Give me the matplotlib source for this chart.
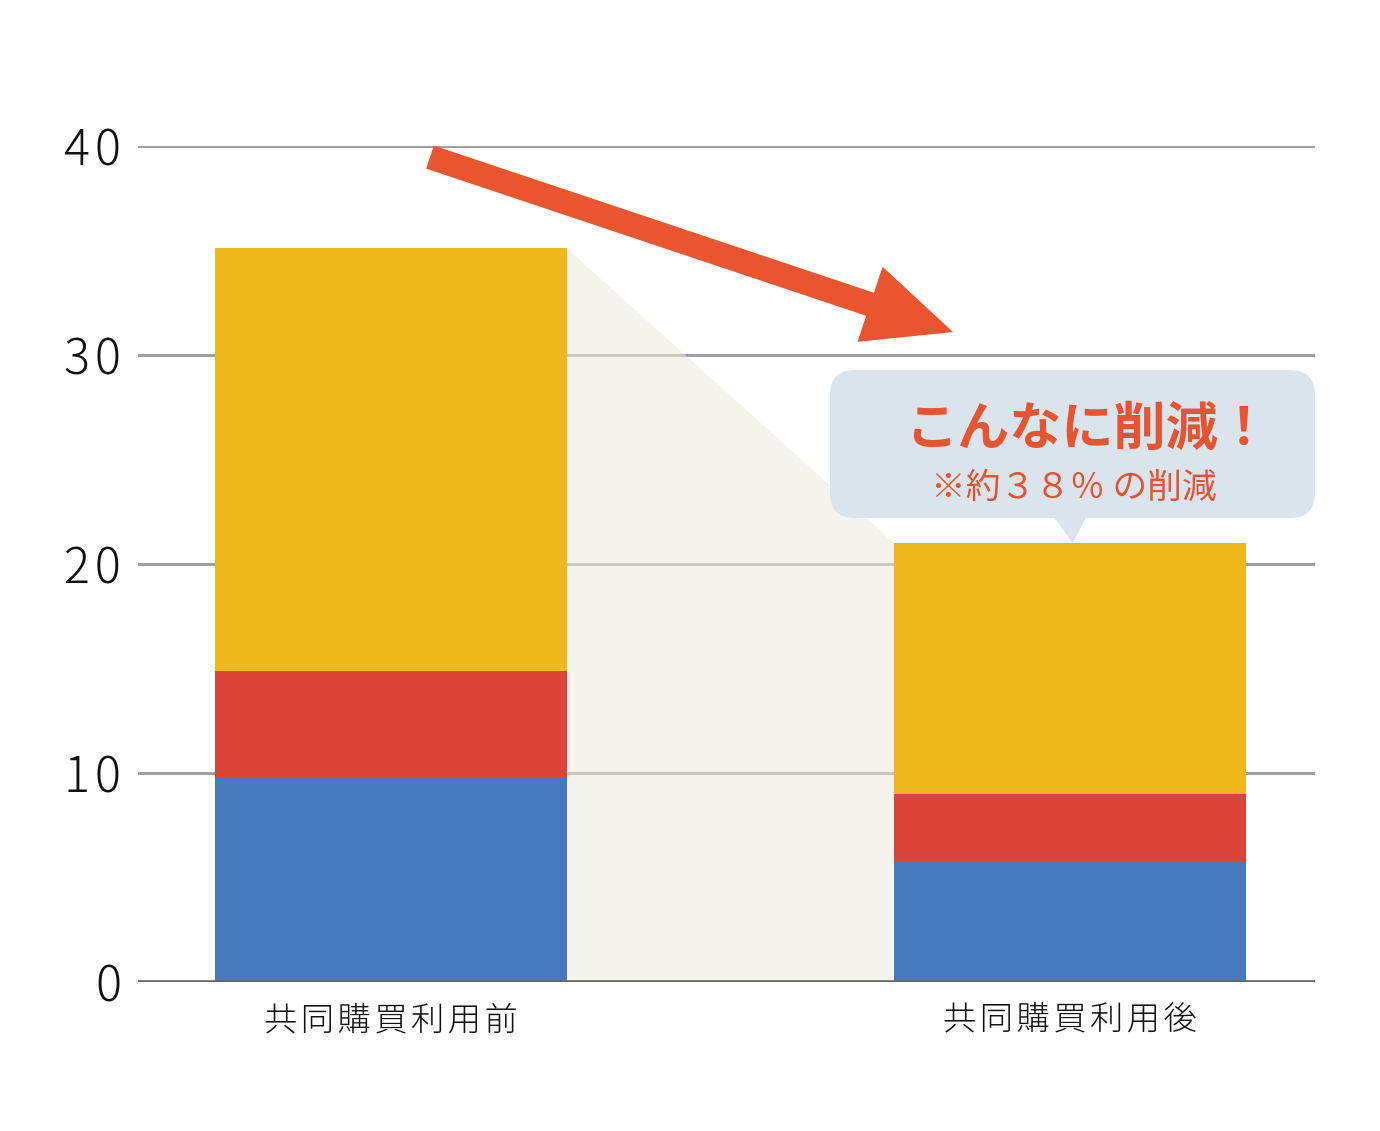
import matplotlib.pyplot as plt
from matplotlib.patches import Polygon, FancyBboxPatch

plt.rcParams['font.family'] = ['Noto Sans CJK JP', 'DejaVu Sans']

# データ
labels = ['共同購買利用前', '共同購買利用後']
blue_vals = [9.8, 5.8]
red_vals = [5.1, 3.2]
yellow_vals = [20.2, 12.0]
yticks = [0, 10, 20, 30, 40]
title_text = 'こんなに削減！'
sub_text = '※約３８％ の削減'

totals = [b + r + y for b, r, y in zip(blue_vals, red_vals, yellow_vals)]
x = [0, 1]
w = 0.518

fig = plt.figure(figsize=(13.8, 11.31), dpi=100)
ax = fig.add_axes([0.1, 0.1317, 0.8529, 0.7392])
ax.set_xlim(-0.3726, 1.3608)
ax.set_ylim(0, 40)

# グリッド
for t in yticks[1:]:
    ax.axhline(t, color='#a0a0a0', lw=2.2, zorder=1)
ax.axhline(0, color='#666666', lw=2.6, zorder=6)

# 棒の間の影
shade = Polygon([(x[0] + w / 2, totals[0]), (x[1] - w / 2, totals[1]),
                 (x[1] - w / 2, 0), (x[0] + w / 2, 0)],
                closed=True, facecolor=(235 / 255, 235 / 255, 220 / 255),
                alpha=0.54, edgecolor='none', zorder=2)
ax.add_patch(shade)

# 積み上げ棒
bottom2 = [b + r for b, r in zip(blue_vals, red_vals)]
ax.bar(x, blue_vals, width=w, color='#477abc', zorder=3)
ax.bar(x, red_vals, width=w, bottom=blue_vals, color='#dc4339', zorder=3)
ax.bar(x, yellow_vals, width=w, bottom=bottom2, color='#efb81c', zorder=3)

# 矢印
ax.annotate('', xy=(0.8277, 31.1), xytext=(0.0574, 39.47),
            arrowprops=dict(arrowstyle='simple,head_length=6.3,head_width=5.7,tail_width=1.75',
                            color='#ea5530', shrinkA=0, shrinkB=0, lw=0),
            annotation_clip=False, zorder=7)

# 吹き出し
bx0 = 0.6465
bx1 = 1.3608
by0 = totals[1] + 1.2
by1 = totals[1] + 8.28
bubble = FancyBboxPatch((bx0, by0), bx1 - bx0, by1 - by0,
                        boxstyle='round,pad=0,rounding_size=0.0368',
                        mutation_aspect=32.5, facecolor='#dae4ec',
                        edgecolor='none', zorder=8, clip_on=False)
ax.add_patch(bubble)
pointer = Polygon([(x[1] - 0.0236, by0 + 0.05), (x[1] + 0.0236, by0 + 0.05),
                   (x[1] + 0.004, totals[1])],
                  closed=True, facecolor='#dae4ec', edgecolor='none', zorder=8)
ax.add_patch(pointer)

ax.text(1.026, totals[1] + 5.45, title_text, ha='center', va='center',
        fontsize=37.5, fontweight='bold', color='#e8542f', zorder=9)
ax.text(1.006, totals[1] + 2.6, sub_text, ha='center', va='center',
        fontsize=25, color='#e8542f', zorder=9)

# 軸
ax.set_xticks(x)
ax.set_xticklabels(['\u200a'.join(s) for s in labels], fontsize=24,
                   color='#111111', fontweight='light')
ax.set_yticks(yticks)
ax.set_yticklabels(['\u200a'.join(str(t)) for t in yticks], fontsize=35,
                   color='#111111', fontweight='light')
ax.tick_params(axis='both', length=0)
ax.tick_params(axis='y', pad=12)
ax.tick_params(axis='x', pad=16)
for s in ax.spines.values():
    s.set_visible(False)

fig.savefig('out.png', dpi=100)
